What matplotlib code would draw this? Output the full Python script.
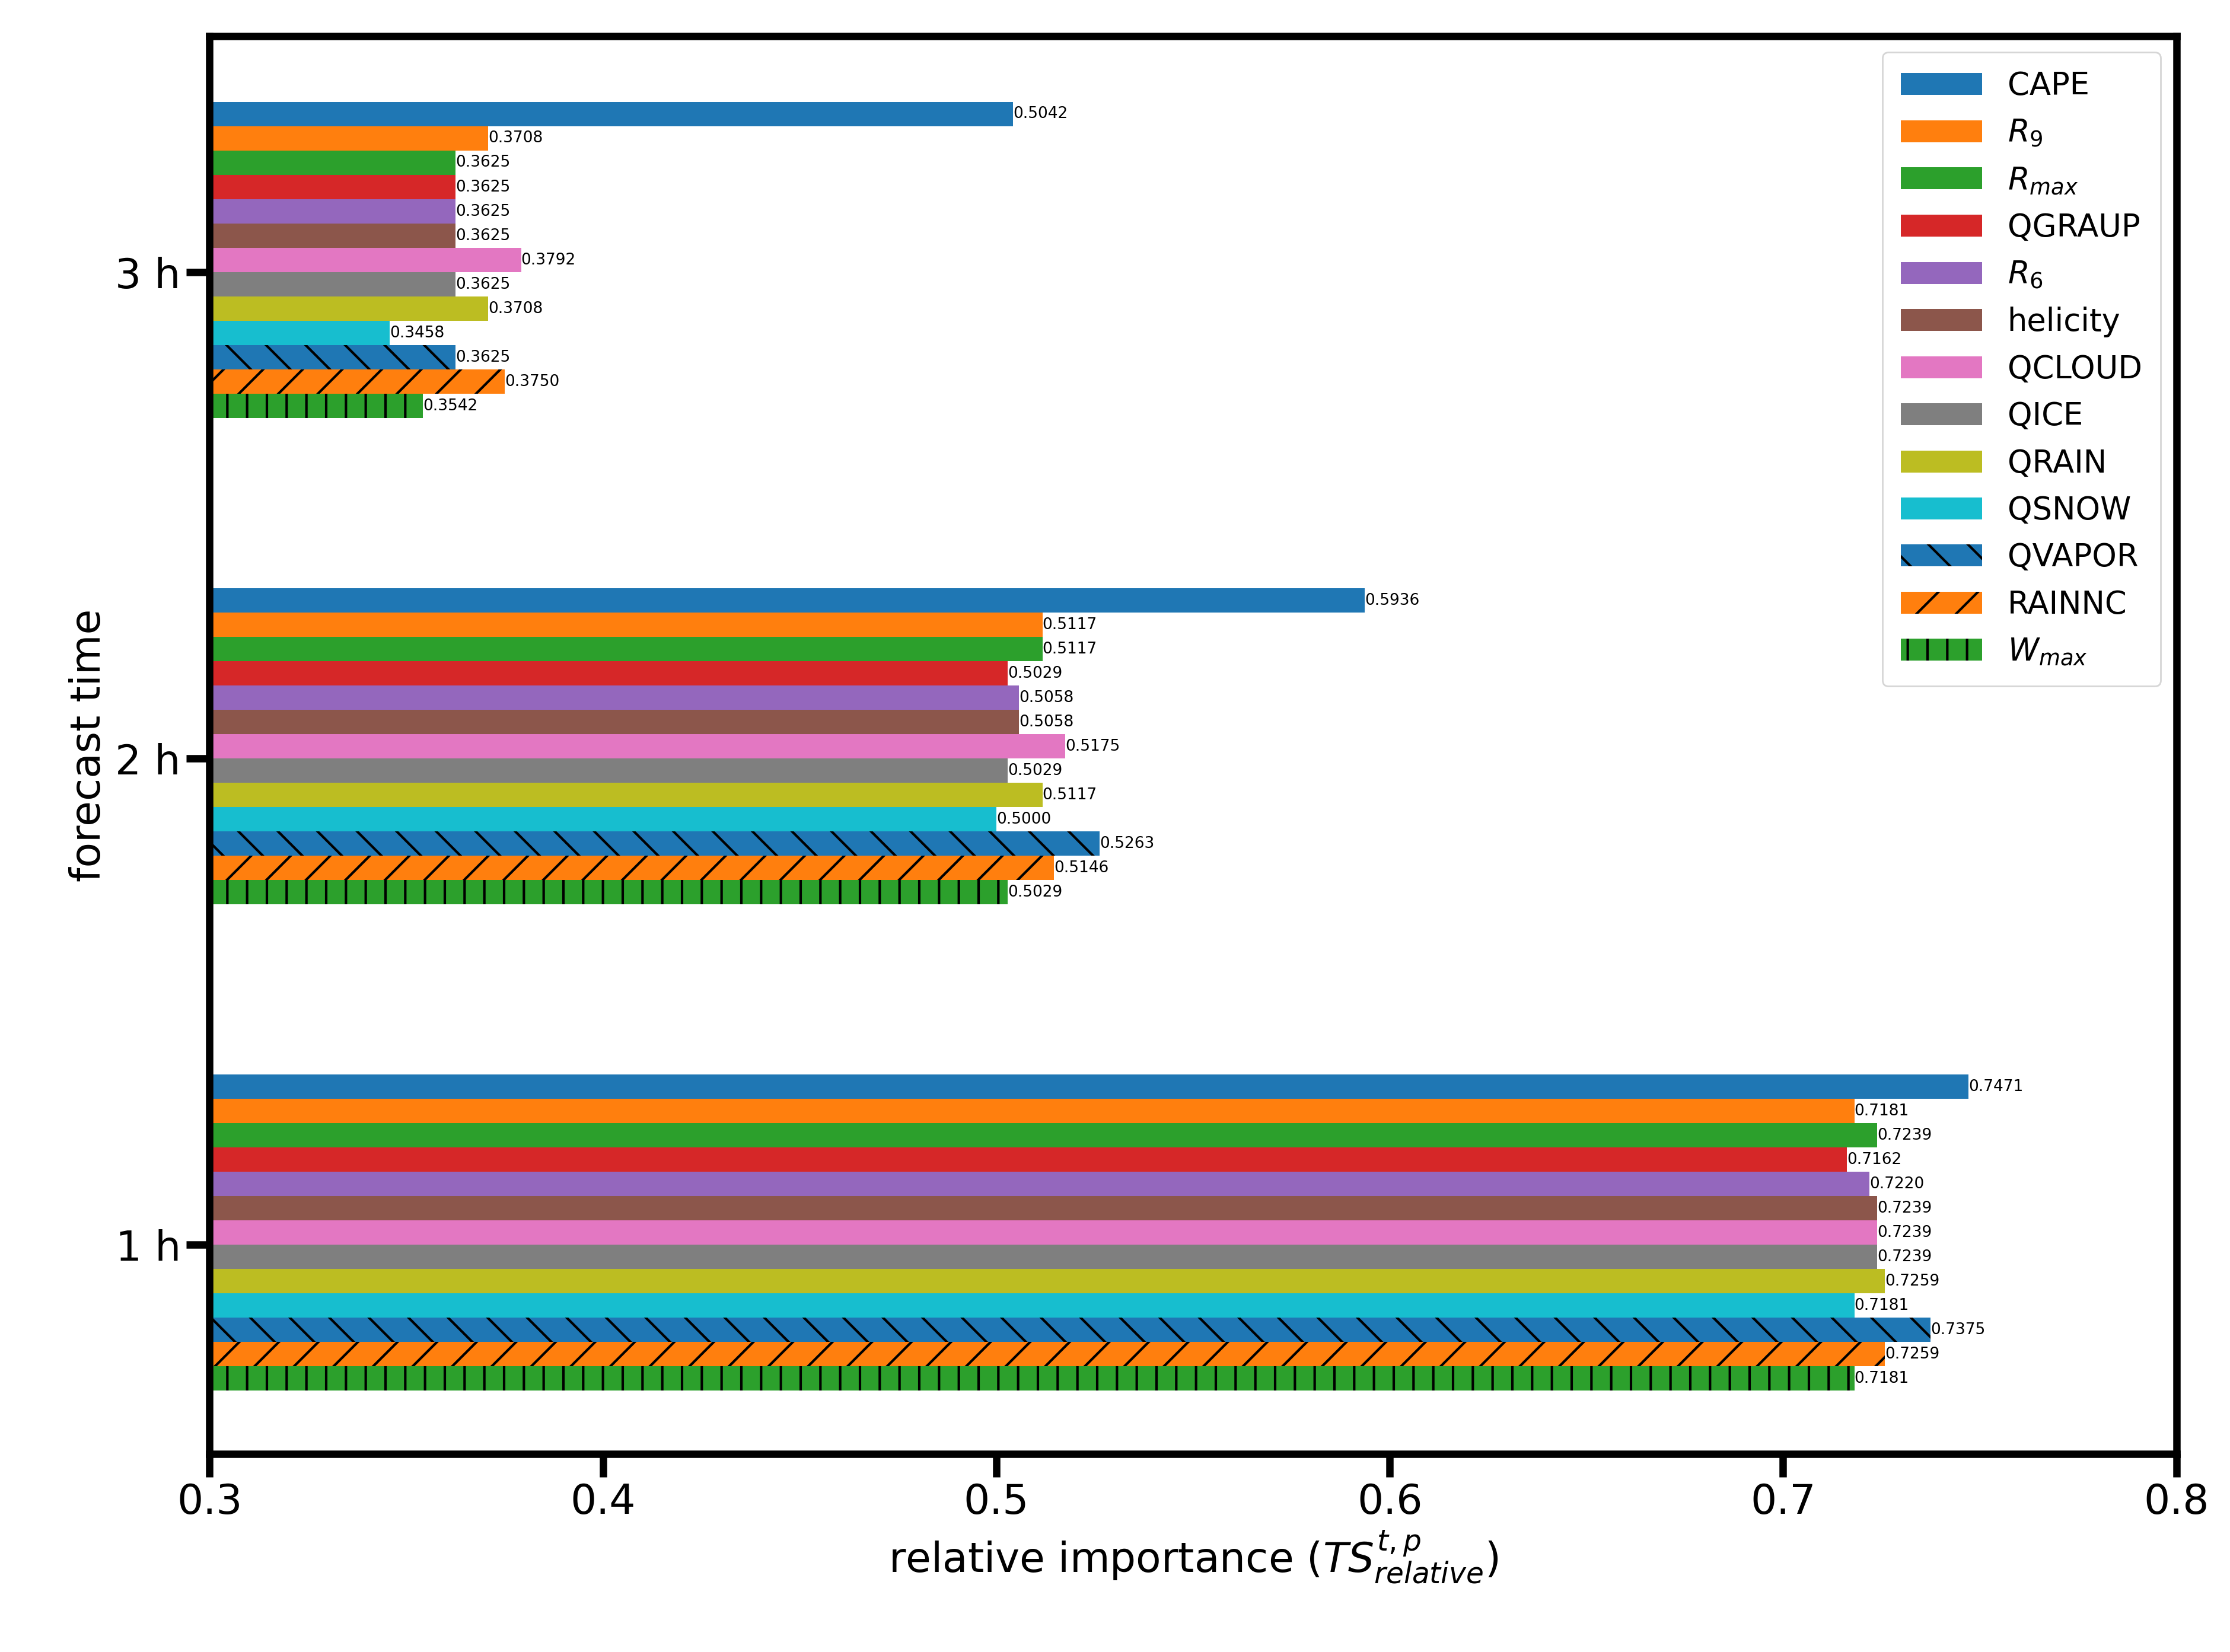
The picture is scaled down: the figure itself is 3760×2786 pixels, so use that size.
import matplotlib
matplotlib.use("Agg")
import matplotlib.pyplot as plt
import numpy as np

features = ["CAPE", "$R_9$", "$R_{max}$", "QGRAUP", "$R_6$", "helicity", "QCLOUD",
            "QICE", "QRAIN", "QSNOW", "QVAPOR", "RAINNC", "$W_{max}$"]
groups = ["1 h", "2 h", "3 h"]
vals_1h = [0.7471, 0.7181, 0.7239, 0.7162, 0.7220, 0.7239, 0.7239, 0.7239, 0.7259, 0.7181, 0.7375, 0.7259, 0.7181]
vals_2h = [0.5936, 0.5117, 0.5117, 0.5029, 0.5058, 0.5058, 0.5175, 0.5029, 0.5117, 0.5000, 0.5263, 0.5146, 0.5029]
vals_3h = [0.5042, 0.3708, 0.3625, 0.3625, 0.3625, 0.3625, 0.3792, 0.3625, 0.3708, 0.3458, 0.3625, 0.3750, 0.3542]
values = np.array([vals_1h, vals_2h, vals_3h])

colors = ["#1f77b4", "#ff7f0e", "#2ca02c", "#d62728", "#9467bd", "#8c564b", "#e377c2",
          "#7f7f7f", "#bcbd22", "#17becf", "#1f77b4", "#ff7f0e", "#2ca02c"]
hatches = [None]*10 + ["\\", "/", "|"]

plt.rcParams["hatch.linewidth"] = 1.5
fig = plt.figure(figsize=(18.8, 13.93), dpi=200)
ax = fig.add_axes([0.094, 0.12, 0.882, 0.858])
ypos = np.arange(1, 4)
h = 0.05
for i, f in enumerate(features):
    off = 0.325 - h*i
    bars = ax.barh(ypos + off, values[:, i], height=h, color=colors[i], hatch=hatches[i],
                   edgecolor="black" if hatches[i] else None, linewidth=0, label=f)
    for y, v in zip(ypos + off, values[:, i]):
        ax.text(v, y, f"{v:.4f}", fontsize=9.5, va="center", ha="left")

ax.set_xlim(0.3, 0.8)
ax.set_ylim(0.57, 3.485)
ax.set_yticks(ypos)
ax.set_yticklabels(groups)
ax.set_xticks([0.3, 0.4, 0.5, 0.6, 0.7, 0.8])
ax.tick_params(axis="both", labelsize=25, length=14, width=4.5)
for s in ax.spines.values():
    s.set_linewidth(4.5)
ax.set_xlabel(r"relative importance ($TS^{t,p}_{relative}$)", fontsize=25)
ax.set_ylabel("forecast time", fontsize=25)
ax.legend(loc="upper right", fontsize=19, handlelength=2.6, labelspacing=0.52, borderpad=0.6)
fig.savefig("out.png", dpi=200)
